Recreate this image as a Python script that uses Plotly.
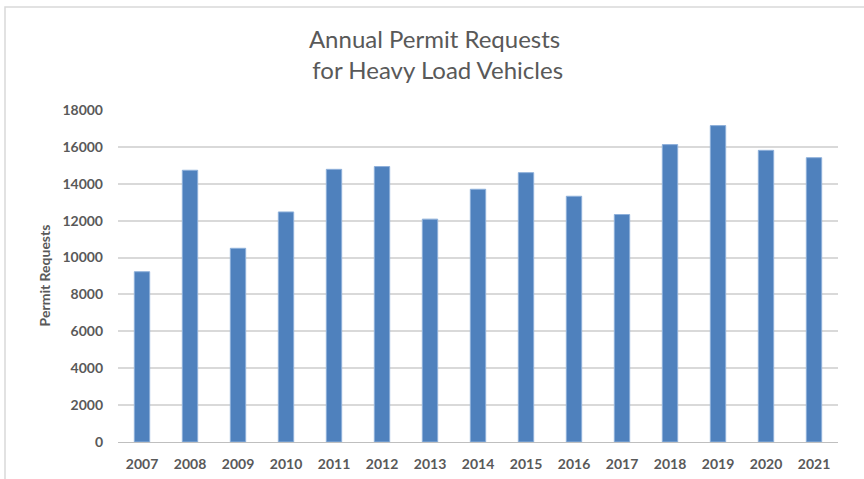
import plotly.graph_objects as go

years = ["2007", "2008", "2009", "2010", "2011", "2012", "2013", "2014",
         "2015", "2016", "2017", "2018", "2019", "2020", "2021"]
requests = [9230, 14730, 10500, 12470, 14780, 14930, 12080, 13700,
            14600, 13320, 12330, 16120, 17150, 15810, 15410]
y_ticks = [0, 2000, 4000, 6000, 8000, 10000, 12000, 14000, 16000, 18000]
y_tick_labels = [str(v) for v in y_ticks]

fig = go.Figure(go.Bar(
    x=years, y=requests,
    marker=dict(color="#4F81BD", line=dict(color="#8EB0DA", width=1)),
))

fig.update_layout(
    width=864, height=479,
    paper_bgcolor="white", plot_bgcolor="white",
    margin=dict(l=118, r=26, t=109, b=37, autoexpand=False),
    bargap=0.68,
    showlegend=False,
    title=dict(
        text="Annual Permit Requests<br> for Heavy Load Vehicles",
        x=0.503, xanchor="center", y=0.900, yanchor="top",
        font=dict(family="Lato", size=24, color="#595959"),
    ),
    font=dict(family="Lato", color="#595959"),
)
fig.update_xaxes(
    automargin=False,
    showgrid=False, showline=True, linecolor="#BFBFBF", linewidth=1,
    ticks="", ticklabelstandoff=9,
    tickfont=dict(size=14, color="#595959", family="Lato", weight="bold"),
)
fig.update_yaxes(
    automargin=False,
    range=[0, 18050], tickvals=y_ticks, ticktext=y_tick_labels,
    showgrid=True, gridcolor="#D9D9D9", gridwidth=1.5,
    zeroline=False, showline=False, ticks="",
    tickfont=dict(size=14, color="#595959", family="Lato", weight="bold"),
    ticklabelstandoff=14,
    title=dict(text="Permit Requests", standoff=8,
               font=dict(size=14, color="#595959", family="Lato", weight="bold")),
)
fig.add_shape(type="rect", xref="paper", yref="paper",
              x0=-113/720, x1=832/720, y0=-60/333, y1=(442-7)/333,
              line=dict(color="#D9D9D9", width=1.5), fillcolor="rgba(0,0,0,0)", layer="below")

fig.write_html("out.html", config={"displayModeBar": False},
               post_script="document.body.style.margin='0';")
